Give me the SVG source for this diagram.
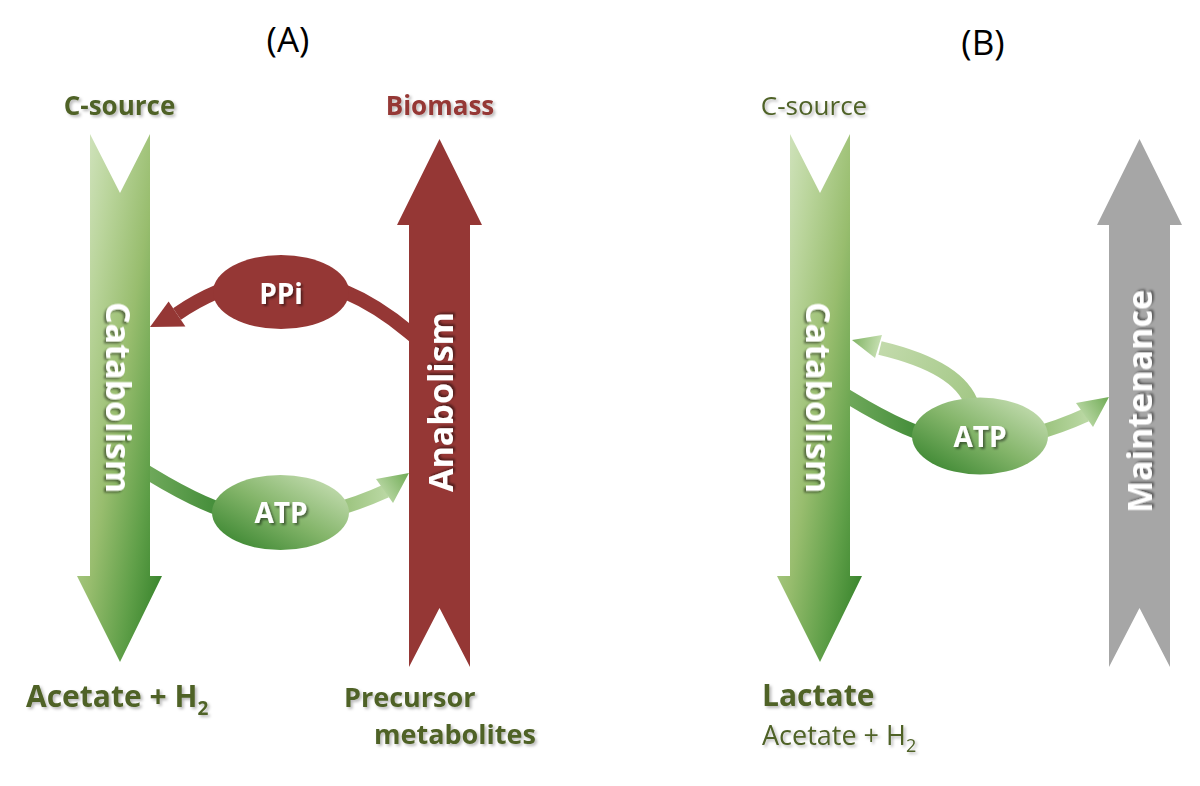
<svg xmlns="http://www.w3.org/2000/svg" width="1200" height="786" viewBox="0 0 1200 786">
<defs>
  <linearGradient id="gBig" x1="0" y1="0" x2="1" y2="1">
    <stop offset="0" stop-color="#d8e8c8"/>
    <stop offset="0.25" stop-color="#b9d49a"/>
    <stop offset="0.5" stop-color="#98bd6e"/>
    <stop offset="0.75" stop-color="#5f9f48"/>
    <stop offset="1" stop-color="#2a7a22"/>
  </linearGradient>
  <linearGradient id="gEll" x1="0" y1="1" x2="1" y2="0">
    <stop offset="0" stop-color="#2c7d25"/>
    <stop offset="0.5" stop-color="#84b56a"/>
    <stop offset="1" stop-color="#d2e5c0"/>
  </linearGradient>
  <linearGradient id="gBandL" gradientUnits="userSpaceOnUse" x1="150" y1="0" x2="225" y2="0">
    <stop offset="0" stop-color="#6ea85a"/>
    <stop offset="1" stop-color="#3f8a36"/>
  </linearGradient>
  <linearGradient id="gBandR" gradientUnits="userSpaceOnUse" x1="345" y1="0" x2="385" y2="0">
    <stop offset="0" stop-color="#9cc47f"/>
    <stop offset="1" stop-color="#b9d7a2"/>
  </linearGradient>
  <linearGradient id="gHeadR" gradientUnits="userSpaceOnUse" x1="376" y1="495" x2="409" y2="473">
    <stop offset="0" stop-color="#c6dfb1"/>
    <stop offset="1" stop-color="#6fab55"/>
  </linearGradient>
  <linearGradient id="gLoop" gradientUnits="userSpaceOnUse" x1="972" y1="400" x2="880" y2="348">
    <stop offset="0" stop-color="#a4c887"/>
    <stop offset="1" stop-color="#c2daab"/>
  </linearGradient>
  <linearGradient id="gHeadL" gradientUnits="userSpaceOnUse" x1="880" y1="346" x2="852" y2="340">
    <stop offset="0" stop-color="#c6dfb1"/>
    <stop offset="1" stop-color="#7fb363"/>
  </linearGradient>
  <filter id="shW" x="-20%" y="-20%" width="140%" height="140%">
    <feDropShadow dx="2" dy="2" stdDeviation="1.2" flood-color="#000" flood-opacity="0.45"/>
  </filter>
  <filter id="shL" x="-20%" y="-20%" width="140%" height="140%">
    <feDropShadow dx="2" dy="2" stdDeviation="1.5" flood-color="#000" flood-opacity="0.28"/>
  </filter>
  <style>
    text { font-family: "Open Sans", "Liberation Sans", sans-serif; }
    .title { font-size: 35px; fill: #000; text-anchor: middle; }
    .lbl { fill: #4f6228; filter: url(#shL); }
    .b { font-weight: bold; }
    .red { fill: #953735; }
    .wt { fill: #fff; font-weight: bold; filter: url(#shW); text-anchor: middle; }
    .band { fill: none; stroke-width: 14; stroke-linejoin: round; }
  </style>
</defs>
<rect width="1200" height="786" fill="#fff"/>

<g id="connectors">
  <g id="ppi-link">
    <path class="band" d="M 420 341 L 409 332 Q 293 235 177 314" stroke="#953735" stroke-width="15"/>
    <polygon points="150,327 168.6,301.5 185.4,326.5" fill="#953735"/>
  </g>
  <g id="atp-link-A">
    <path class="band" d="M 140 468 L 150 474 Q 211 511 245 516" stroke="url(#gBandL)" stroke-width="15"/>
    <path class="band" d="M 245 516 Q 290 521 340 509" stroke="#5a9c48"/>
    <path class="band" d="M 330 511 Q 360 503 386 491" stroke="url(#gBandR)"/>
    <polygon points="409,473 376,479 393,503" fill="url(#gHeadR)"/>
  </g>
  <g id="atp-link-B" transform="translate(700,-76)">
    <path class="band" d="M 140 468 L 150 474 Q 211 511 245 516" stroke="url(#gBandL)" stroke-width="15"/>
    <path class="band" d="M 245 516 Q 290 521 340 509" stroke="#5a9c48"/>
    <path class="band" d="M 330 511 Q 360 503 386 491" stroke="url(#gBandR)"/>
    <polygon points="409,473 376,479 393,503" fill="url(#gHeadR)"/>
  </g>
  <g id="atp-loop-B">
    <path class="band" d="M 972 405 Q 960 367 880 348" stroke="url(#gLoop)" stroke-width="13"/>
    <polygon points="852,340 882,335 875,358" fill="url(#gHeadL)"/>
  </g>
</g>

<g id="catabolism-A">
  <polygon points="90,134 120,193 150,134 150,576 162,576 120,662 77,576 90,576" fill="url(#gBig)"/>
  <text class="wt" font-size="34" transform="translate(106,397.5) rotate(90)">Catabolism</text>
</g>
<g id="anabolism-A">
  <polygon points="439.5,139 482,225 470,225 470,667 439.5,608 409,667 409,225 397,225" fill="#953735"/>
  <text class="wt" font-size="34" transform="translate(453,402) rotate(-90)">Anabolism</text>
</g>
<g id="ppi-node">
  <ellipse cx="281" cy="292" rx="68" ry="37" fill="#953735"/>
  <text class="wt" font-size="28" x="281" y="304">PPi</text>
</g>
<g id="atp-node-A">
  <ellipse cx="280.5" cy="512.5" rx="68.5" ry="37.5" fill="url(#gEll)"/>
  <text class="wt" font-size="28" x="281" y="523">ATP</text>
</g>

<g id="catabolism-B">
  <polygon points="790,134 820,193 850,134 850,576 862,576 820,662 777,576 790,576" fill="url(#gBig)"/>
  <text class="wt" font-size="34" transform="translate(806,397.5) rotate(90)">Catabolism</text>
</g>
<g id="maintenance-B">
  <polygon points="1139.5,139 1182,225 1170,225 1170,667 1139.5,608 1109,667 1109,225 1097,225" fill="#a6a6a6"/>
  <text class="wt" font-size="34" transform="translate(1152,401.5) rotate(-90)">Maintenance</text>
</g>
<g id="atp-node-B">
  <ellipse cx="980" cy="436" rx="68" ry="38.5" fill="url(#gEll)"/>
  <text class="wt" font-size="28" x="980" y="447">ATP</text>
</g>

<g id="labels">
  <text class="title" x="288" y="52">(A)</text>
  <text class="title" x="983" y="55">(B)</text>
  <text class="lbl b" font-size="26" x="119.5" y="115" text-anchor="middle">C-source</text>
  <text class="lbl b red" font-size="26" x="440" y="115" text-anchor="middle">Biomass</text>
  <text class="lbl b" font-size="30" x="26" y="707">Acetate + H<tspan font-size="19" dy="8">2</tspan></text>
  <text class="lbl b" font-size="27" x="344" y="707">Precursor</text>
  <text class="lbl b" font-size="27" x="374" y="744">metabolites</text>
  <text class="lbl" font-size="26" x="814" y="115" text-anchor="middle">C-source</text>
  <text class="lbl b" font-size="30" x="762" y="706">Lactate</text>
  <text class="lbl" font-size="27" x="762" y="745">Acetate + H<tspan font-size="18" dy="7">2</tspan></text>
</g>
</svg>
